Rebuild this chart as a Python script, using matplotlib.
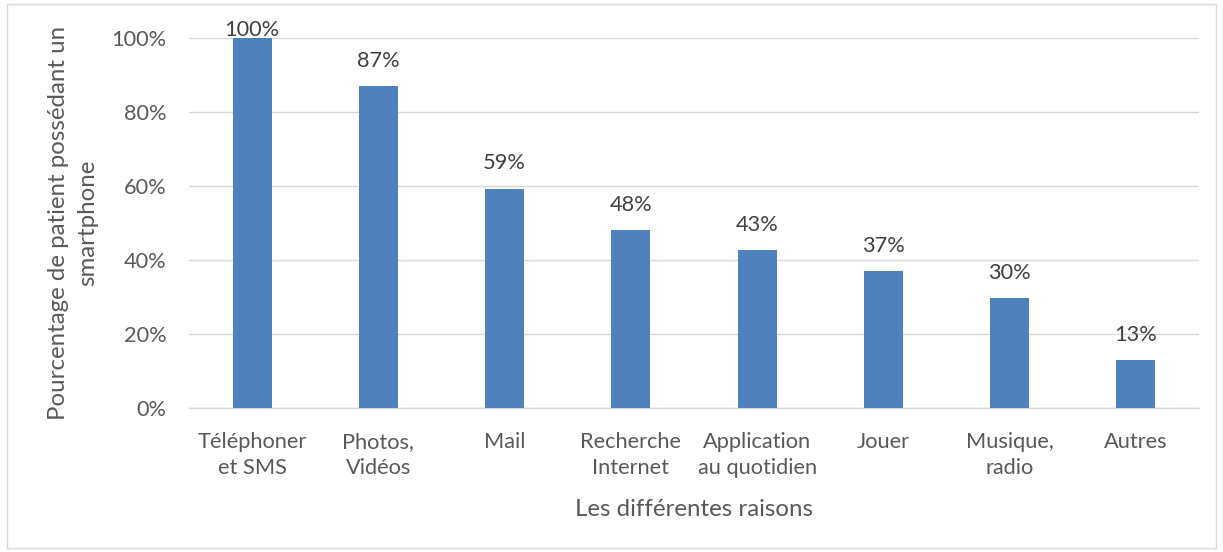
import matplotlib
matplotlib.use("Agg")
import matplotlib.pyplot as plt
from matplotlib.patches import Rectangle

categories = ["Téléphoner\net SMS", "Photos,\nVidéos", "Mail", "Recherche\nInternet",
              "Application\nau quotidien", "Jouer", "Musique,\nradio", "Autres"]
values = [100.0, 87.0, 59.3, 48.1, 42.6, 37.0, 29.6, 13.0]
yticks = [0, 20, 40, 60, 80, 100]
ytick_labels = ["0%", "20%", "40%", "60%", "80%", "100%"]

plt.rcParams['font.family'] = ['Lato', 'DejaVu Sans']
txt = "#595959"
W, H = 1223, 552
fig = plt.figure(figsize=(W/100, H/100), dpi=100)
ax = fig.add_axes([189/W, (H-408)/H, (1199-189)/W, (408-38)/H])

x = list(range(len(categories)))
ax.bar(x, values, width=0.31, color="#4F81BD", zorder=3)
ax.set_xlim(-0.5, len(categories)-0.5)
ax.set_ylim(0, 100)
ax.set_yticks(yticks)
ax.set_yticklabels(ytick_labels)
ax.set_xticks(x)
ax.set_xticklabels(categories, linespacing=1.4)
ax.grid(axis='y', color="#D9D9D9", linewidth=1, zorder=0)
ax.set_axisbelow(True)
for s in ["top", "right", "left"]:
    ax.spines[s].set_visible(False)
ax.spines["bottom"].set_color("#D9D9D9")
ax.spines["bottom"].set_linewidth(1)
ax.tick_params(axis='both', length=0, colors=txt, labelsize=15.7)
ax.tick_params(axis='y', pad=16)
ax.tick_params(axis='x', pad=17)

# data labels: outside end, kept inside the chart area at the top
for xi, v in zip(x, values):
    ylab = min(v + 6.8, 102.2)
    ax.text(xi, ylab, f"{v:.0f}%", ha="center", va="center", fontsize=15.7,
            color="#404040", clip_on=False)

ax.set_xlabel("Les différentes raisons", fontsize=17.3, color=txt, labelpad=15)
ax.set_ylabel("Pourcentage de patient possédant un\nsmartphone", fontsize=17.3, color=txt,
              labelpad=10, linespacing=1.45)

fig.patches.append(Rectangle((7/W, 4/H), (1216-7)/W, (548-4)/H, transform=fig.transFigure,
                             fill=False, edgecolor="#D9D9D9", linewidth=1))
fig.savefig("out.png", dpi=100)
